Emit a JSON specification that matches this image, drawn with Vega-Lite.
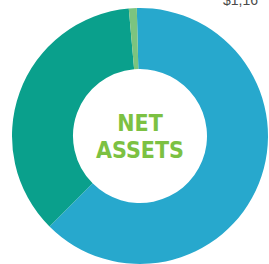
{
  "$schema": "https://vega.github.io/schema/vega-lite/v6.json",
  "width": 280,
  "height": 272,
  "autosize": "none",
  "padding": 0,
  "background": "white",
  "title": {
    "text": "$1,16",
    "anchor": "end",
    "orient": "top",
    "fontSize": 14,
    "font": "Liberation Sans",
    "fontWeight": "normal",
    "color": "#4a4a4a",
    "dx": -22,
    "dy": 19,
    "offset": 0,
    "baseline": "alphabetic"
  },
  "layer": [
    {
      "data": {
        "values": [
          {"category": "A", "value": 62.9, "order": 1},
          {"category": "B", "value": 36.1, "order": 2},
          {"category": "C", "value": 1.0, "order": 3}
        ]
      },
      "mark": {"type": "arc", "radius": 128, "radius2": 67, "stroke": null},
      "encoding": {
        "theta": {"field": "value", "type": "quantitative", "stack": true, "scale": {"range": [-0.025, 6.2582]}},
        "order": {"field": "order", "type": "quantitative"},
        "color": {
          "field": "category",
          "type": "nominal",
          "legend": null,
          "scale": {"domain": ["A", "B", "C"], "range": ["#27a8cd", "#0aa08c", "#7cc47f"]}
        }
      }
    },
    {
      "data": {"values": [{"label": "NET ASSETS"}]},
      "mark": {
        "type": "text",
        "lineBreak": " ",
        "font": "DejaVu Sans Condensed",
        "fontWeight": "bold",
        "fontSize": 23,
        "lineHeight": 27,
        "align": "center",
        "baseline": "middle",
        "color": "#7cc142",
        "dy": -12
      },
      "encoding": {"text": {"field": "label"}}
    }
  ]
}
